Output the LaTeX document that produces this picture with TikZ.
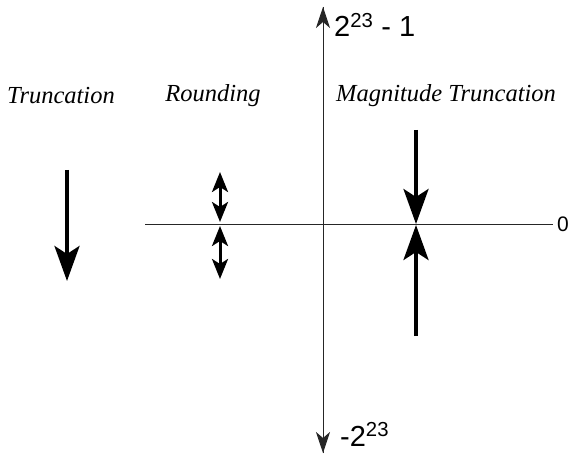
\documentclass[tikz,border=0pt]{standalone}
\usepackage{fontspec}
\setmainfont{Liberation Serif}
\setsansfont{Liberation Sans}
\usetikzlibrary{arrows.meta, positioning}

\begin{document}
\begin{tikzpicture}[x=1pt, y=-1pt,
    axis/.style={line width=0.9pt, black!85},
    bigarrow/.style={line width=3.8pt, -{Stealth[length=35pt, width=25pt, inset=8pt]}},
    smallarrow/.style={line width=3pt, {Stealth[length=20pt, width=16pt, inset=5pt]}-{Stealth[length=20pt, width=16pt, inset=5pt]}},
    title/.style={font=\itshape\fontsize{24.5}{28}\selectfont},
    limit/.style={font=\sffamily\fontsize{29}{34}\selectfont}]
    \useasboundingbox (0,0) rectangle (572,454);

    % Axes
    \coordinate (vtop) at (323, 7);
    \coordinate (vbot) at (323, 453);
    \coordinate (hleft) at (145, 224);
    \coordinate (hright) at (553, 224);
    \draw[axis, -{Stealth[length=21pt, width=14pt, inset=6pt]}] (vbot) -- (vtop);
    \draw[axis, -{Stealth[length=21pt, width=14pt, inset=6pt]}] (vtop) -- (vbot);
    \draw[axis] (hleft) -- (hright);
    \node[limit, anchor=base west, inner sep=0pt] (max) at (334, 37) {2\textsuperscript{23} - 1};
    \node[limit, anchor=base west, inner sep=0pt] (min) at (340, 446) {-2\textsuperscript{23}};
    \node[anchor=base west, inner sep=0pt, font=\sffamily\fontsize{21}{25}\selectfont] (zero) at (557, 232) {0};

    % Titles
    \node[title] (trunc) at (61, 96) {Truncation};
    \node[title] (round) at (213, 96) {Rounding};
    \node[title] (mag) at (446, 96) {Magnitude Truncation};

    % Truncation
    \coordinate (t0) at (67, 170);
    \coordinate (t1) at (67, 281);
    \draw[bigarrow] (t0) -- (t1);

    % Rounding
    \coordinate (r0) at (220, 172);
    \coordinate (r1) at (220, 222);
    \coordinate (r2) at (220, 226);
    \coordinate (r3) at (220, 279);
    \draw[smallarrow] (r0) -- (r1);
    \draw[smallarrow] (r2) -- (r3);

    % Magnitude truncation
    \coordinate (m0) at (416, 130);
    \coordinate (m1) at (416, 224);
    \coordinate (m2) at (416, 336);
    \coordinate (m3) at (416, 225);
    \draw[bigarrow] (m0) -- (m1);
    \draw[bigarrow] (m2) -- (m3);
\end{tikzpicture}
\end{document}
